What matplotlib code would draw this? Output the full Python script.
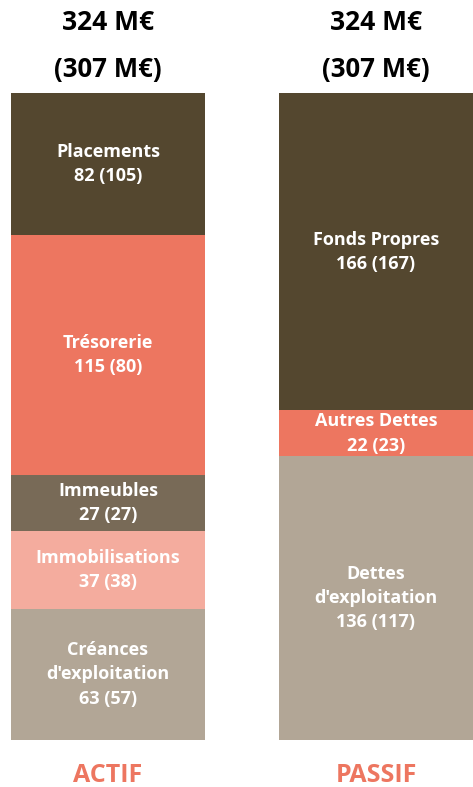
import numpy as np
import matplotlib.pyplot as plt
from matplotlib.transforms import blended_transform_factory

plt.rcParams['font.family'] = ['Open Sans', 'DejaVu Sans']

actif_labels = ["Créances\nd'exploitation", 'Immobilisations', 'Immeubles', 'Trésorerie', 'Placements']
actif_values = [63, 37, 27, 115, 82]
actif_prev = [57, 38, 27, 80, 105]
actif_colors = ['#b2a696', '#f4ac9e', '#786a57', '#ed7660', '#54472f']

passif_labels = ["Dettes\nd'exploitation", 'Autres Dettes', 'Fonds Propres']
passif_values = [136, 22, 166]
passif_prev = [117, 23, 167]
passif_colors = ['#b2a696', '#ed7660', '#54472f']

totals = [324, 324]
totals_prev = [307, 307]
sides = ['ACTIF', 'PASSIF']

fig = plt.figure(figsize=(4.73, 7.87), dpi=100)
ax = fig.add_axes([0, 47 / 787, 1, 647 / 787])
ytop = 310.2
ax.set_xlim(-0.403, 1.362)
ax.set_ylim(0, ytop)
ax.axis('off')

w = 0.724
for xpos, labels, vals, prev, cols in [(0, actif_labels, actif_values, actif_prev, actif_colors),
                                        (1, passif_labels, passif_values, passif_prev, passif_colors)]:
    bottom = 0
    for lab, v, p, c in zip(labels, vals, prev, cols):
        ax.bar(xpos, v, bottom=bottom, width=w, color=c, edgecolor='none')
        mid = (bottom + min(bottom + v, ytop)) / 2
        ax.text(xpos, mid, '%s\n%d (%d)' % (lab, v, p), ha='center', va='center',
                color='white', fontsize=13, fontweight='bold', linespacing=1.45)
        bottom += v

tr = blended_transform_factory(ax.transData, fig.transFigure)
for xpos, t, tp, s in zip([0, 1], totals, totals_prev, sides):
    ax.text(xpos, 1 - 23 / 787, '%d M€' % t, transform=tr, ha='center', va='center',
            fontsize=19, fontweight='bold', color='black')
    ax.text(xpos, 1 - 69 / 787, '(%d M€)' % tp, transform=tr, ha='center', va='center',
            fontsize=18.5, fontweight='bold', color='black')
    ax.text(xpos, 1 - 775 / 787, s, transform=tr, ha='center', va='center',
            fontsize=18, fontweight='bold', color='#ed7660')

fig.savefig('out.png', dpi=100)
